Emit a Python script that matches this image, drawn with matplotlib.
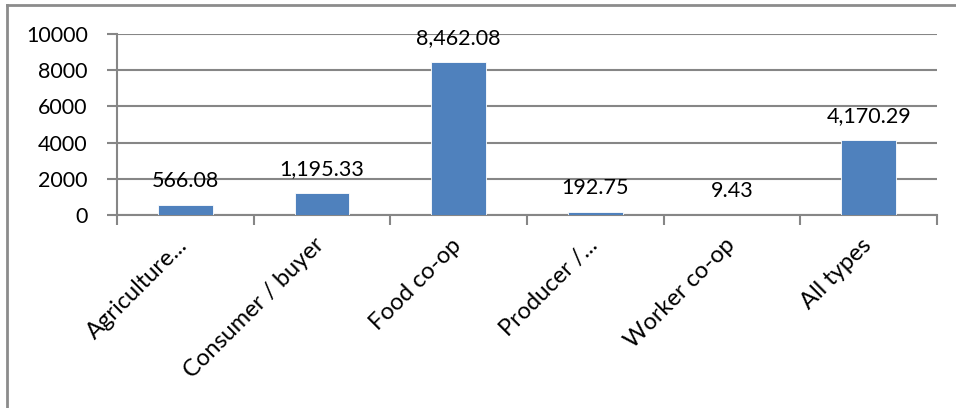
import matplotlib.pyplot as plt
from matplotlib.lines import Line2D

plt.rcParams['font.family'] = ['Lato', 'DejaVu Sans']

categories = ['Agriculture...', 'Consumer / buyer', 'Food co-op',
              'Producer /...', 'Worker co-op', 'All types']
values = [566.08, 1195.33, 8462.08, 192.75, 9.43, 4170.29]
yticks = [0, 2000, 4000, 6000, 8000, 10000]

BAR = '#4F81BD'
GRID = '#868686'
FS = 15.5

fig = plt.figure(figsize=(9.56, 4.08), dpi=100)
ax = fig.add_axes([117 / 956, 1 - 215 / 408, (937 - 117) / 956, (215 - 34) / 408])

x = list(range(len(categories)))
ax.bar(x, values, width=0.4, color=BAR, edgecolor='white', linewidth=0.6, zorder=3)
for xi, v in zip(x, values):
    ax.annotate(f'{v:,.2f}', (xi, v), xytext=(0, 10), textcoords='offset points',
                ha='center', va='bottom', fontsize=FS, color='black', zorder=4)

ax.set_xlim(-0.5, len(categories) - 0.5)
ax.set_ylim(0, 10000)
ax.set_yticks(yticks)
ax.set_yticklabels([str(t) for t in yticks], fontsize=FS)
ax.yaxis.grid(True, color=GRID, linewidth=1.5, zorder=0)
ax.tick_params(axis='y', length=7, width=1.5, color=GRID, pad=14)

# category ticks sit at the boundaries between bars
ax.set_xticks([i - 0.5 for i in range(len(categories) + 1)], minor=False)
ax.set_xticklabels([])
ax.tick_params(axis='x', length=7, width=1.5, color=GRID)
for xi, lab in zip(x, categories):
    ax.annotate(lab, (xi, 0), xytext=(-6, -14), textcoords='offset points',
                rotation=45, ha='right', va='top', rotation_mode='anchor',
                fontsize=17, annotation_clip=False)

for side in ['top', 'right']:
    ax.spines[side].set_visible(False)
for side in ['left', 'bottom']:
    ax.spines[side].set_color(GRID)
    ax.spines[side].set_linewidth(1.5)

# outer chart frame
fig.add_artist(Line2D([7 / 956, 1], [1 - 5 / 408] * 2, color='#8c8c8c', linewidth=2,
                      transform=fig.transFigure))
fig.add_artist(Line2D([7 / 956] * 2, [0, 1 - 5 / 408], color='#8c8c8c', linewidth=2,
                      transform=fig.transFigure))

fig.savefig('out.png', dpi=100)
